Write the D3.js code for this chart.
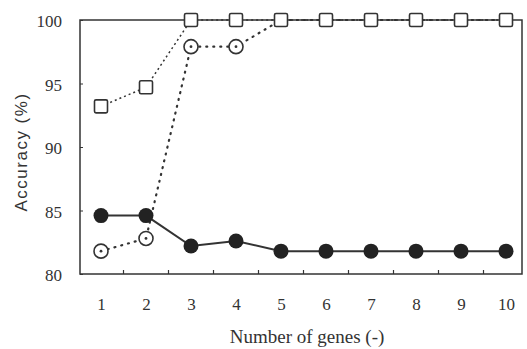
<!DOCTYPE html>
<html>
<head>
<meta charset="utf-8">
<script src="https://cdn.jsdelivr.net/npm/d3@7"></script>
<style>
  body { margin: 0; background: #fff; }
  text { font-family: "Liberation Serif", "Times New Roman", serif; fill: #333; }
</style>
</head>
<body>
<div id="chart"></div>
<script>
let genes = [1, 2, 3, 4, 5, 6, 7, 8, 9, 10];
let yTicks = [80, 85, 90, 95, 100];
let squares = [93.2, 94.7, 100, 100, 100, 100, 100, 100, 100, 100];
let openCircles = [81.8, 82.8, 97.9, 97.9, 100, 100, 100, 100, 100, 100];
let filledCircles = [84.6, 84.6, 82.2, 82.6, 81.8, 81.8, 81.8, 81.8, 81.8, 81.8];

const width = 527, height = 349;
const plotLeft = 80, plotRight = 522, plotTop = 20, plotBottom = 274;
const ink = "#333";

let svg = d3.select("#chart")
  .append("svg")
    .attr("width", width)
    .attr("height", height);

let x = d3.scalePoint()
  .domain(genes)
  .range([101, 506]);

let y = d3.scaleLinear()
  .domain([80, 100])
  .range([plotBottom, plotTop]);

// frame
svg.append("rect")
  .attr("x", plotLeft).attr("y", plotTop)
  .attr("width", plotRight - plotLeft).attr("height", plotBottom - plotTop)
  .attr("fill", "none").attr("stroke", ink).attr("stroke-width", 1.5);

// y axis
let yAxis = svg.append("g")
  .attr("transform", "translate(" + plotLeft + ",0)")
  .call(d3.axisLeft(y).tickValues(yTicks).tickSize(-3).tickPadding(18));
yAxis.select(".domain").remove();
yAxis.selectAll("line").attr("stroke", ink);
yAxis.selectAll("text")
  .style("font-size", "17px")
  .attr("fill", ink)
  .attr("dy", "0.4em");

// x axis: labels at categories, ticks between them
let xAxis = svg.append("g")
  .attr("transform", "translate(0," + plotBottom + ")")
  .call(d3.axisBottom(x).tickSize(0).tickPadding(24));
xAxis.select(".domain").remove();
xAxis.selectAll("text").style("font-size", "17px").attr("fill", ink);

let step = x.step();
svg.append("g")
  .selectAll("line")
  .data(genes.slice(0, -1))
  .enter()
  .append("line")
    .attr("x1", d => x(d) + step / 2)
    .attr("x2", d => x(d) + step / 2)
    .attr("y1", plotBottom)
    .attr("y2", plotBottom - 4)
    .attr("stroke", ink)
    .attr("stroke-width", 1.2);

// axis titles
svg.append("text")
  .attr("x", 307).attr("y", 343)
  .attr("text-anchor", "middle")
  .style("font-size", "19px")
  .text("Number of genes (-)");

svg.append("text")
  .attr("transform", "translate(27,152) rotate(-90)")
  .attr("text-anchor", "middle")
  .style("font-family", "'Liberation Sans', Arial, sans-serif")
  .style("font-size", "17px")
  .style("letter-spacing", "1.5px")
  .text("Accuracy (%)");

let line = d3.line()
  .x((d, i) => x(genes[i]))
  .y(d => y(d));

// open circles, dotted
svg.append("path")
  .datum(openCircles)
  .attr("d", line)
  .attr("fill", "none")
  .attr("stroke", ink)
  .attr("stroke-width", 2.2)
  .attr("stroke-dasharray", "1,6")
  .attr("stroke-linecap", "round");

let oc = svg.append("g")
  .selectAll("g")
  .data(openCircles.slice(0, 4))
  .enter()
  .append("g")
    .attr("transform", (d, i) => "translate(" + x(genes[i]) + "," + y(d) + ")");
oc.append("circle").attr("r", 7).attr("fill", "#fff").attr("stroke", ink).attr("stroke-width", 1.6);
oc.append("circle").attr("r", 1.4).attr("fill", ink);

// squares, dotted
svg.append("path")
  .datum(squares)
  .attr("d", line)
  .attr("fill", "none")
  .attr("stroke", ink)
  .attr("stroke-width", 1.5)
  .attr("stroke-dasharray", "2,3");

svg.append("g")
  .selectAll("rect")
  .data(squares)
  .enter()
  .append("rect")
    .attr("x", (d, i) => x(genes[i]) - 6.5)
    .attr("y", d => y(d) - 6.5)
    .attr("width", 13)
    .attr("height", 13)
    .attr("rx", 1.5)
    .attr("fill", "#fff")
    .attr("stroke", ink)
    .attr("stroke-width", 1.6);

// filled circles, solid
svg.append("path")
  .datum(filledCircles)
  .attr("d", line)
  .attr("fill", "none")
  .attr("stroke", ink)
  .attr("stroke-width", 2);

svg.append("g")
  .selectAll("circle")
  .data(filledCircles)
  .enter()
  .append("circle")
    .attr("cx", (d, i) => x(genes[i]))
    .attr("cy", d => y(d))
    .attr("r", 7.5)
    .attr("fill", "#222");
</script>
</body>
</html>
